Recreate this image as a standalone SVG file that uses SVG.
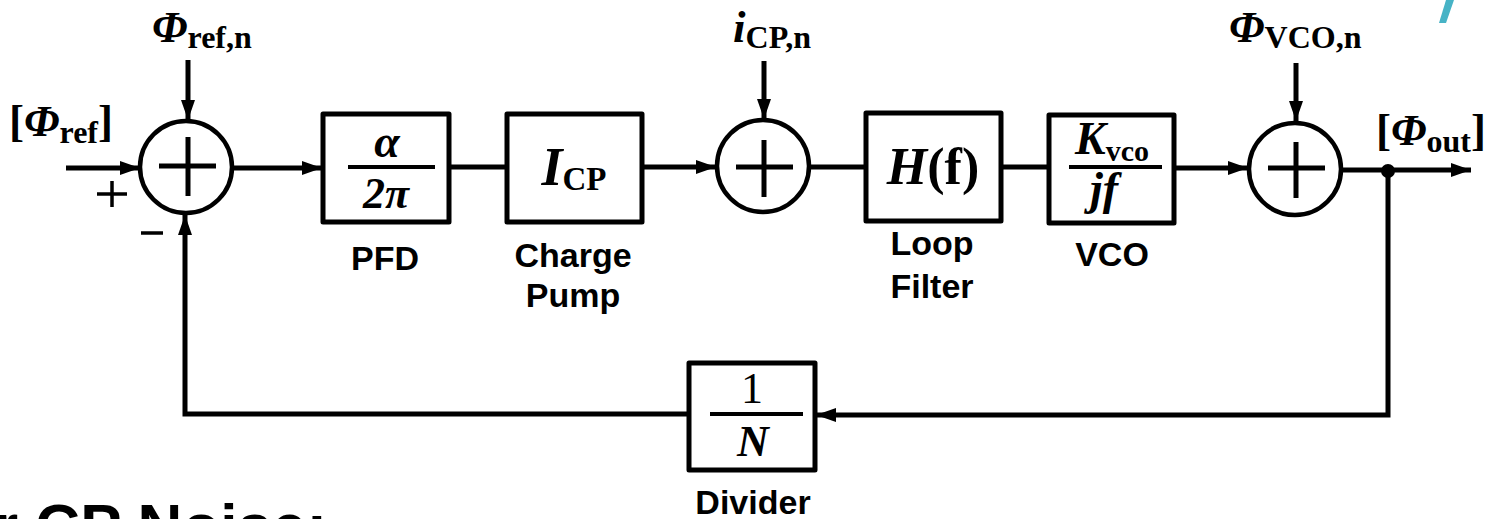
<svg xmlns="http://www.w3.org/2000/svg" width="1493" height="519" viewBox="0 0 1493 519">
<defs>
<style>
.box{fill:#fff;stroke:#000;stroke-width:5;stroke-linejoin:round}
.sum{fill:#fff;stroke:#000;stroke-width:4.5}
.pl{stroke:#000;stroke-width:5;fill:none}
.w{stroke:#000;stroke-width:5;fill:none}
.fr{stroke:#000;stroke-width:4}
.m{font-family:"Liberation Serif",serif;font-weight:bold;fill:#000}
.lb{font-family:"Liberation Sans",Arial,sans-serif;font-weight:bold;font-size:34px;fill:#000;text-anchor:middle}
</style>
<marker id="ah" markerUnits="userSpaceOnUse" markerWidth="22" markerHeight="16" refX="20" refY="7" orient="auto">
<path d="M0,0 L20,7 L0,14 z" fill="#000"/>
</marker>
</defs>
<rect width="1493" height="519" fill="#fff"/>
<polygon points="1446,0 1454,0 1446,23 1439,23" fill="#47b3c6"/>

<g id="connectors">
<line class="w" x1="66" y1="168" x2="140" y2="168" marker-end="url(#ah)"/>
<line class="w" x1="188" y1="60" x2="188" y2="120" marker-end="url(#ah)"/>
<line class="w" x1="233" y1="168" x2="322" y2="168" marker-end="url(#ah)"/>
<line class="w" x1="449" y1="167" x2="507" y2="167"/>
<line class="w" x1="642" y1="167" x2="716" y2="167" marker-end="url(#ah)"/>
<line class="w" x1="764" y1="61" x2="764" y2="119" marker-end="url(#ah)"/>
<line class="w" x1="810" y1="167" x2="867" y2="167"/>
<line class="w" x1="1001" y1="167" x2="1049" y2="167"/>
<line class="w" x1="1174" y1="168" x2="1248" y2="168" marker-end="url(#ah)"/>
<line class="w" x1="1296" y1="63" x2="1296" y2="121" marker-end="url(#ah)"/>
<line class="w" x1="1342" y1="170" x2="1471" y2="170" marker-end="url(#ah)"/>
<circle cx="1388" cy="171" r="7" fill="#000"/>
<polyline class="w" points="1388,171 1388,415 816,415" marker-end="url(#ah)"/>
<polyline class="w" points="689,414 185,414 185,215" marker-end="url(#ah)"/>
</g>

<g id="sum1">
<circle class="sum" cx="186" cy="167" r="46"/>
<line class="pl" x1="159" y1="166" x2="216" y2="166"/>
<line class="pl" x1="188" y1="137" x2="188" y2="196"/>
<text class="m" x="152" y="42" font-size="45"><tspan font-style="italic">Φ</tspan><tspan font-size="32" dy="6">ref,n</tspan></text>
<text class="m" x="9" y="136" font-size="45">[<tspan font-style="italic">Φ</tspan><tspan font-size="32" dy="7">ref</tspan><tspan dy="-7">]</tspan></text>
<line x1="97" y1="194" x2="127" y2="194" stroke="#000" stroke-width="3.5"/>
<line x1="112" y1="181" x2="112" y2="207" stroke="#000" stroke-width="3.5"/>
<line x1="141" y1="233" x2="163" y2="233" stroke="#000" stroke-width="3.5"/>
</g>

<g id="pfd">
<rect class="box" x="323" y="114" width="126" height="108"/>
<line class="fr" x1="348" y1="167" x2="435" y2="167"/>
<text class="m" x="387" y="157" font-size="46" font-style="italic" text-anchor="middle">α</text>
<text class="m" x="386" y="208" font-size="44" font-style="italic" text-anchor="middle">2π</text>
<text class="lb" x="385" y="270">PFD</text>
</g>

<g id="chargepump">
<rect class="box" x="507" y="114" width="135" height="108"/>
<text class="m" x="574" y="185" font-size="54" text-anchor="middle"><tspan font-style="italic">I</tspan><tspan font-size="33" dy="5">CP</tspan></text>
<text class="lb" x="573" y="267">Charge</text>
<text class="lb" x="573" y="307">Pump</text>
</g>

<g id="sum2">
<circle class="sum" cx="763" cy="166" r="46"/>
<line class="pl" x1="736" y1="167" x2="793" y2="167"/>
<line class="pl" x1="764" y1="140" x2="764" y2="197"/>
<text class="m" x="733" y="42" font-size="45"><tspan font-style="italic">i</tspan><tspan font-size="32" dy="6">CP,n</tspan></text>
</g>

<g id="loopfilter">
<rect class="box" x="866" y="113" width="135" height="108"/>
<text class="m" x="933" y="184" font-size="52" text-anchor="middle"><tspan font-style="italic">H</tspan>(f)</text>
<text class="lb" x="932" y="255">Loop</text>
<text class="lb" x="932" y="298">Filter</text>
</g>

<g id="vco">
<rect class="box" x="1049" y="115" width="125" height="108"/>
<line class="fr" x1="1069" y1="167" x2="1162" y2="167"/>
<text class="m" x="1112" y="154" font-size="46" text-anchor="middle"><tspan font-style="italic">K</tspan><tspan font-size="30" dy="7">vco</tspan></text>
<text class="m" x="1104" y="204" font-size="46" font-style="italic" text-anchor="middle">jf</text>
<text class="lb" x="1112" y="266">VCO</text>
</g>

<g id="sum3">
<circle class="sum" cx="1295" cy="169" r="46"/>
<line class="pl" x1="1268" y1="168" x2="1325" y2="168"/>
<line class="pl" x1="1296" y1="142" x2="1296" y2="198"/>
<text class="m" x="1229" y="42" font-size="45"><tspan font-style="italic">Φ</tspan><tspan font-size="32" dy="6">VCO,n</tspan></text>
<text class="m" x="1376" y="145" font-size="45">[<tspan font-style="italic">Φ</tspan><tspan font-size="32" dy="7">out</tspan><tspan dy="-7">]</tspan></text>
</g>

<g id="divider">
<rect class="box" x="689" y="363" width="126" height="107"/>
<line class="fr" x1="710" y1="414" x2="803" y2="414"/>
<text x="752" y="403" font-family="Liberation Serif,serif" font-size="44" text-anchor="middle">1</text>
<text class="m" x="753" y="456" font-size="44" font-style="italic" text-anchor="middle">N</text>
<text class="lb" x="753" y="514">Divider</text>
</g>

<text x="-6" y="547" font-family="Liberation Sans,Arial,sans-serif" font-weight="bold" font-size="62">r CP Noise:</text>
</svg>
